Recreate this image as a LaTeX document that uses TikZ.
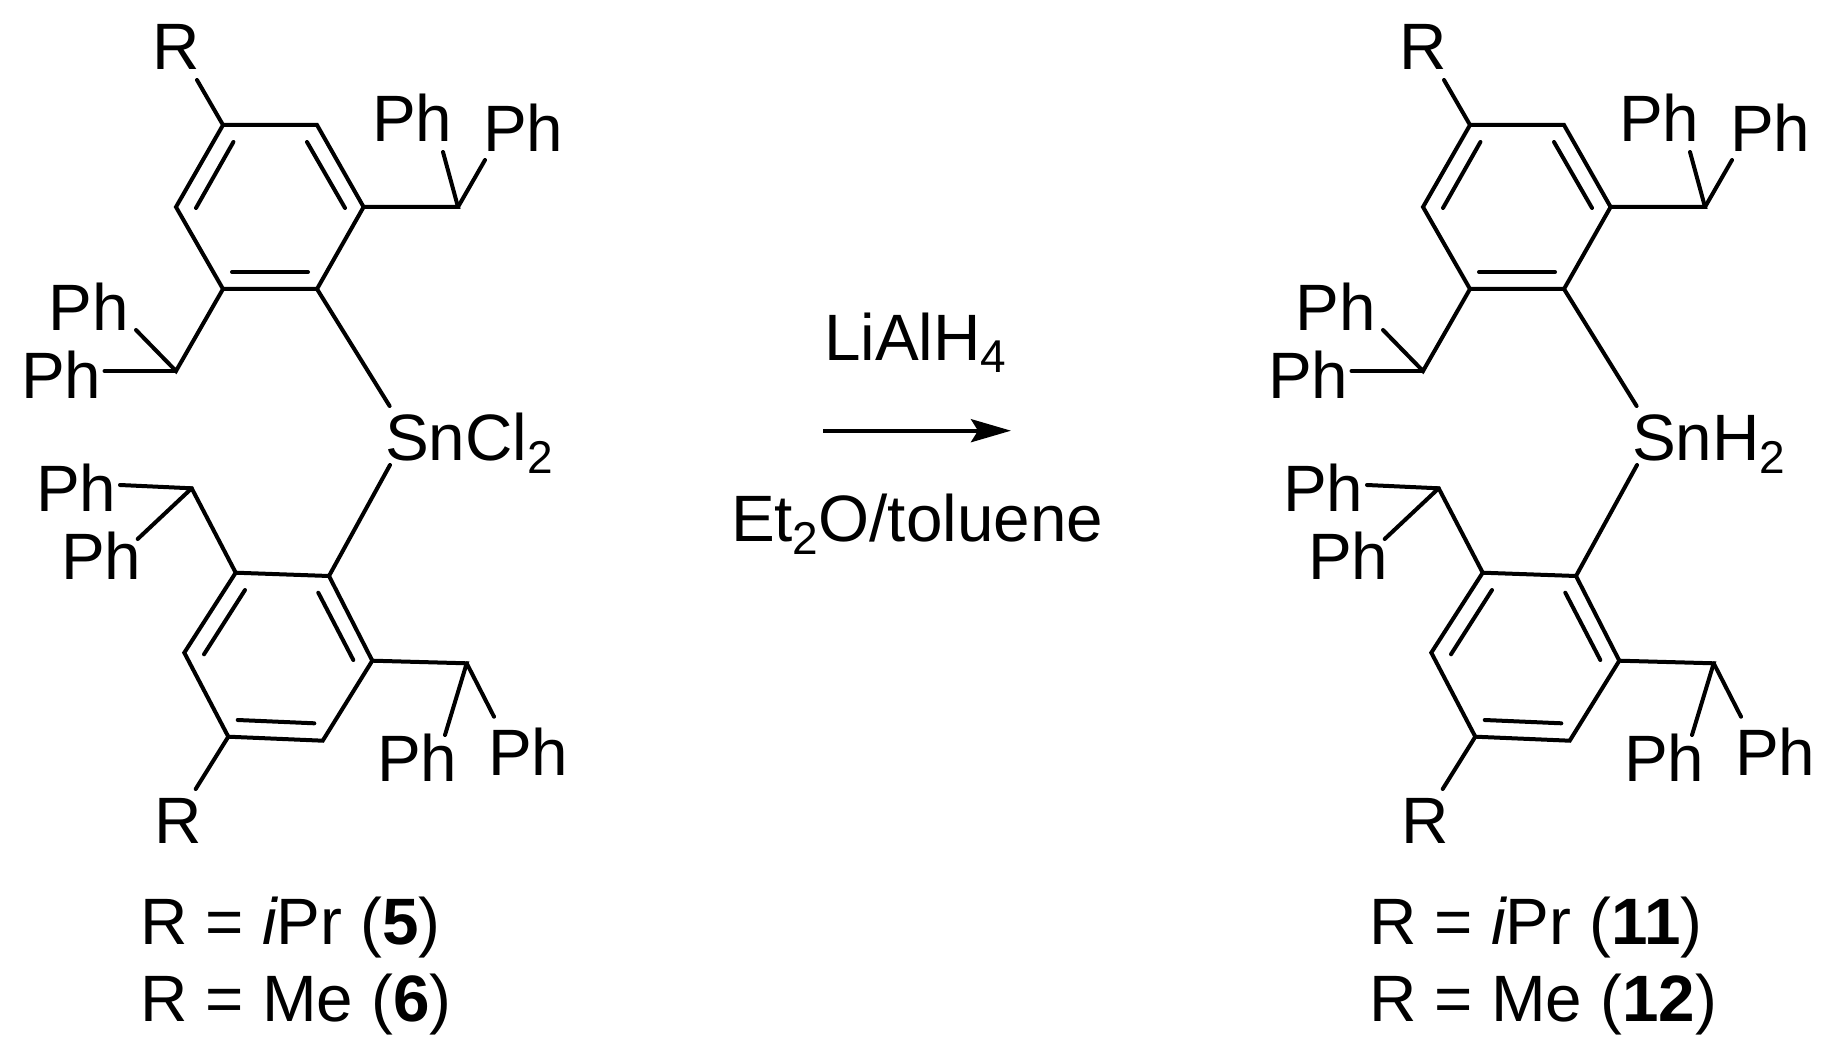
\documentclass[tikz,border=0pt]{standalone}
\usepackage{fontspec}
\setmainfont{Liberation Sans}
\usetikzlibrary{arrows.meta}
\tikzset{
  x=1pt,y=-1pt,
  bondline/.style={line width=4pt,line cap=round,line join=miter},
  label/.style={inner sep=0pt,outer sep=0pt,anchor=base west,font=\fontsize{65.6pt}{70pt}\selectfont},
}
\newcommand{\ssub}[1]{\raisebox{-13pt}{\fontsize{46pt}{46pt}\selectfont #1}}
\begin{document}
\begin{tikzpicture}
\useasboundingbox (0,0) rectangle (1836,1056);
\fill[white] (0,0) rectangle (1836,1056);
\newcommand{\molecule}[2]{%
 \begin{scope}[shift={(#1,0)}]
  \draw[bondline] (197,80) -- (223,125) -- (317,125) -- (363.6,207) -- (317,289) -- (223,289) -- (176,207) -- (223,125);
  \draw[bondline] (233.4,142) -- (196,208);
  \draw[bondline] (307,142) -- (345,208);
  \draw[bondline] (232,272) -- (308,272);
  \draw[bondline] (363.6,207) -- (458,207) -- (443,152);
  \draw[bondline] (458,207) -- (485,160);
  \draw[bondline] (223,289) -- (176,371) -- (136,330);
  \draw[bondline] (176,371) -- (104.5,371);
  \draw[bondline] (317,289) -- (389.6,406);
  \draw[bondline] (390,465) -- (329,576) -- (235.7,572.7) -- (184.3,652.7) -- (228.3,736.7) -- (322.7,740.7) -- (372.3,660.7) -- (329,576);
  \draw[bondline] (318.3,592.7) -- (353.3,660);
  \draw[bondline] (245,590) -- (204,654.3);
  \draw[bondline] (237.7,720) -- (314.3,723.3);
  \draw[bondline] (372.3,660.7) -- (466.7,663.3) -- (445,735);
  \draw[bondline] (466.7,663.3) -- (494,716.7);
  \draw[bondline] (235.7,572.7) -- (191.7,488.3) -- (120,485);
  \draw[bondline] (191.7,488.3) -- (137.7,539);
  \draw[bondline] (228.3,736.7) -- (195.7,789);
  \node[label] at (152,70) {R};
  \node[label] at (372,142) {Ph};
  \node[label] at (483,152) {Ph};
  \node[label] at (48.6,331) {Ph};
  \node[label] at (21,398) {Ph};
  \node[label] at (385,460) {#2};
  \node[label] at (36,511) {Ph};
  \node[label] at (61,579.3) {Ph};
  \node[label] at (377,781.7) {Ph};
  \node[label] at (488,775) {Ph};
  \node[label] at (154.5,843.3) {R};
 \end{scope}}
\molecule{0}{SnCl\ssub{2}}
\molecule{1247}{SnH\ssub{2}}
\node[label] at (140,944.3) {R = {\itshape i}Pr (\textbf{5})};
\node[label] at (140,1021.7) {R = Me (\textbf{6})};
\node[label] at (1369,944.3) {R = {\itshape i}Pr (\textbf{11})};
\node[label] at (1369,1021.7) {R = Me (\textbf{12})};
\node[label] at (824,360) {LiAlH\ssub{4}};
\node[label] at (731,541.7) {Et\ssub{2}O/toluene};
\coordinate (arrs) at (823,430.7);
\coordinate (arre) at (1011,430.7);
\draw[line width=4pt,-{Stealth[length=40pt,width=23pt,inset=7pt]}] (arrs) -- (arre);
\end{tikzpicture}
\end{document}
